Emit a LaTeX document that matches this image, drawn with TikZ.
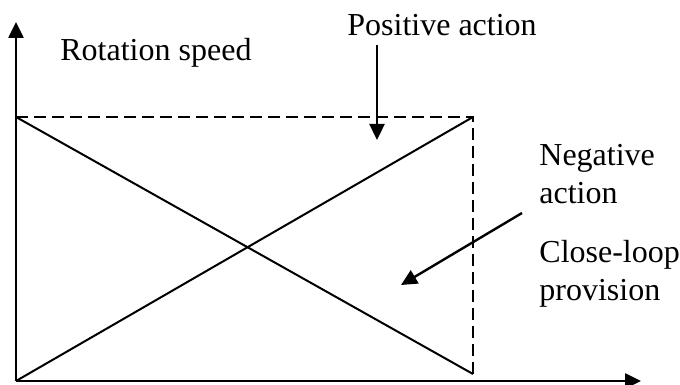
\documentclass[tikz,border=0pt]{standalone}
\usepackage{fontspec}
\setmainfont{Liberation Serif}
\usepackage{tikz}
\usetikzlibrary{arrows.meta,positioning}

\tikzset{
    axisline/.style={line width=1.3pt, -{Triangle[length=8pt,width=7.5pt]}},
    guide/.style={line width=1pt, dash pattern=on 6pt off 3pt},
    ramp/.style={line width=1pt},
    pointer/.style={line width=1.2pt, -{Triangle[length=8pt,width=7.5pt]}},
    lbl/.style={inner sep=0pt, anchor=base west, align=left, font=\fontsize{16}{19}\selectfont}
}

\begin{document}
\begin{tikzpicture}[x=0.5pt, y=-0.5pt]
    \useasboundingbox (0,0) rectangle (680,385);

    % Corners
    \coordinate (origin) at (16,381);
    \coordinate (ytip) at (16,22);
    \coordinate (xtip) at (641,381);
    \coordinate (topleft) at (16,117);
    \coordinate (topright) at (473,117);
    \coordinate (botright) at (473,374);

    % Labels
    \node[lbl] (speed) at (60,61) {Rotation speed};
    \node[lbl] (positive) at (347,36) {Positive action};
    \node[lbl] (negative) at (539,203) {Negative\\action};
    \node[lbl] (closeloop) at (539,300) {Close-loop\\provision};

    % Axes
    \draw[axisline] (origin) -- (ytip);
    \draw[axisline] (origin) -- (xtip);

    % Dashed frame
    \draw[guide] (topleft) -- (topright) -- (botright);

    % Ramps
    \draw[ramp] (topleft) -- (botright);
    \draw[ramp] (origin) -- (topright);

    % Pointers
    \coordinate (postail) at (377,45);
    \coordinate (poshead) at (377,140);
    \coordinate (negtail) at (522,213);
    \coordinate (neghead) at (401,285);
    \draw[pointer] (postail) -- (poshead);
    \draw[pointer] (negtail) -- (neghead);
\end{tikzpicture}
\end{document}
